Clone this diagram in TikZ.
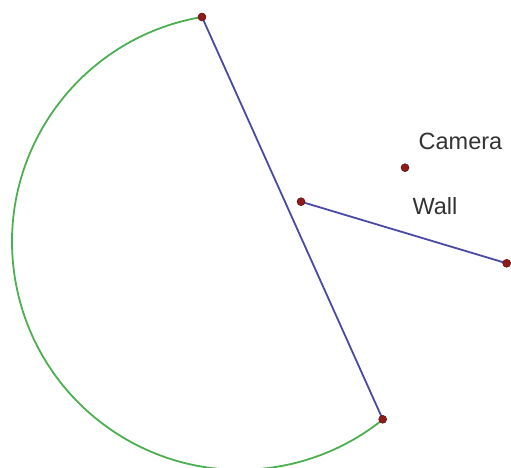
\documentclass[tikz,border=0pt]{standalone}
\usepackage{fontspec}
\setmainfont{Liberation Sans}
\definecolor{wallblue}{HTML}{4A4AA6}
\definecolor{arcgreen}{HTML}{4CAF50}
\definecolor{ptred}{HTML}{8E1A1A}
\definecolor{txtgray}{HTML}{333333}
\begin{document}
\begin{tikzpicture}[x=1pt,y=1pt,
  pt/.style={circle,fill=ptred,draw=ptred!70!black,line width=0.5pt,inner sep=0pt,minimum size=8pt},
  wall/.style={draw=wallblue,line width=1.8pt},
  fov/.style={draw=arcgreen,line width=1.8pt},
  lbl/.style={text=txtgray,font=\fontsize{23.5}{28}\selectfont,inner sep=0pt,anchor=base}]
\useasboundingbox (0,0) rectangle (511,468);
\coordinate (A) at (202,451);
\coordinate (B) at (382.7,48.7);
\coordinate (M) at (301,266.3);
\coordinate (C) at (506.7,204.7);
\coordinate (K) at (405,300.3);
\draw[fov] (A) arc[start angle=99.6, end angle=308.75, radius=228];
\draw[wall] (A) -- (B);
\draw[wall] (M) -- (C);
\node[pt] (pA) at (A) {};
\node[pt] (pB) at (B) {};
\node[pt] (pM) at (M) {};
\node[pt] (pC) at (C) {};
\node[pt] (pK) at (K) {};
\node[lbl] (cam) at (460.5,318) {Camera};
\node[lbl] (wl) at (435,253) {Wall};
\end{tikzpicture}
\end{document}
